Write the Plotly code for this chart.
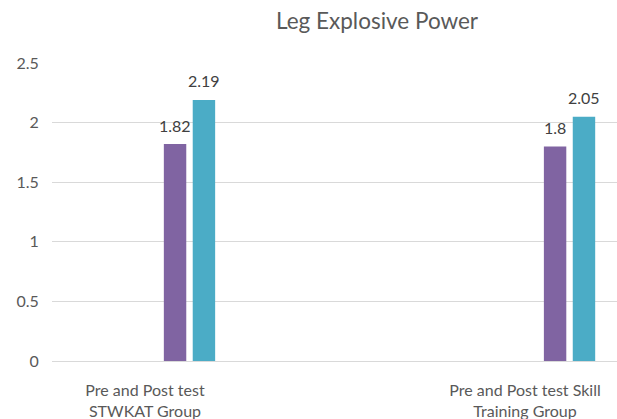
import plotly.graph_objects as go

categories = ["Pre and Post test<br>STWKAT Group", "Pre and Post test Skill<br>Training Group"]
pre_values = [1.82, 1.80]
post_values = [2.19, 2.05]
pre_labels = ["1.82", "1.8"]
post_labels = ["2.19", "2.05"]
y_ticks = [0, 0.5, 1, 1.5, 2, 2.5]
y_tick_text = ["0", "0.5", "1", "1.5", "2", "2.5"]

FONT = "Lato, 'Open Sans', sans-serif"
TXT = "#595959"
BAR_W = 0.059
OFF_PRE = 0.0496
OFF_POST = 0.1256
PX_PER_UNIT = 380

fig = go.Figure()
fig.add_trace(go.Bar(
    x=categories, y=pre_values,
    marker=dict(color="#8064A2", line=dict(width=0)),
    width=BAR_W, offset=OFF_PRE, cliponaxis=False,
))
fig.add_trace(go.Bar(
    x=categories, y=post_values,
    marker=dict(color="#4BACC6", line=dict(width=0)),
    width=BAR_W, offset=OFF_POST, cliponaxis=False,
))

annotations = []
for cat, val, lab in zip(categories, pre_values, pre_labels):
    annotations.append(dict(x=cat, y=val, text=lab, showarrow=False,
                            xref="x", yref="y", yanchor="middle", yshift=19,
                            xshift=(OFF_PRE + BAR_W / 2) * PX_PER_UNIT,
                            font=dict(family=FONT, size=16, color="#404040")))
for cat, val, lab in zip(categories, post_values, post_labels):
    annotations.append(dict(x=cat, y=val, text=lab, showarrow=False,
                            xref="x", yref="y", yanchor="middle", yshift=19,
                            xshift=(OFF_POST + BAR_W / 2) * PX_PER_UNIT,
                            font=dict(family=FONT, size=16, color="#404040")))

fig.update_layout(
    width=617, height=419,
    margin=dict(l=52, r=0, t=63, b=58, autoexpand=False),
    paper_bgcolor="white", plot_bgcolor="white",
    showlegend=False,
    barmode="overlay",
    font=dict(family=FONT, size=16, color=TXT),
    annotations=annotations,
    title=dict(text="Leg Explosive Power", x=377/617, xanchor="center",
               xref="container", y=0.969, yanchor="top", yref="container",
               font=dict(family=FONT, size=22.5, color=TXT)),
    xaxis=dict(type="category", range=[-0.2447, 1.242], showgrid=False,
               showline=False, zeroline=False, automargin=False,
               ticks="outside", ticklen=15, tickcolor="rgba(0,0,0,0)",
               tickfont=dict(family=FONT, size=16, color=TXT)),
    yaxis=dict(range=[0, 2.5], tickvals=y_ticks, ticktext=y_tick_text,
               showgrid=True, gridcolor="#D9D9D9", gridwidth=1,
               zeroline=True, zerolinecolor="#D9D9D9", zerolinewidth=1,
               showline=False, automargin=False,
               ticks="outside", ticklen=9, tickcolor="rgba(0,0,0,0)",
               tickfont=dict(family=FONT, size=16, color=TXT)),
)

fig.write_html("out.html", config={"displayModeBar": False},
               post_script="document.body.style.margin='0';document.body.style.overflow='hidden';")
